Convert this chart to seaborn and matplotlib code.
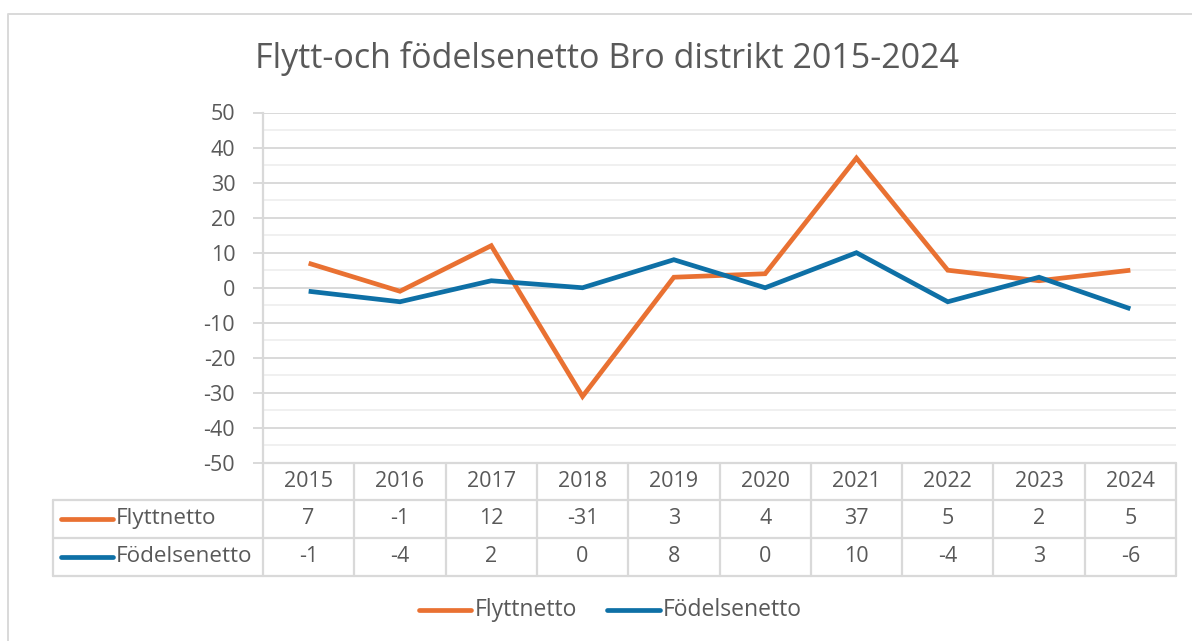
import matplotlib
matplotlib.use("Agg")
import matplotlib.pyplot as plt
import matplotlib.transforms as mtransforms
from matplotlib.lines import Line2D
import seaborn as sns
import pandas as pd
import numpy as np

years = ["2015", "2016", "2017", "2018", "2019", "2020", "2021", "2022", "2023", "2024"]
flytt = [7, -1, 12, -31, 3, 4, 37, 5, 2, 5]
fodelse = [-1, -4, 2, 0, 8, 0, 10, -4, 3, -6]
series_names = ["Flyttnetto", "Födelsenetto"]
colors = ["#E97132", "#0E70A6"]
title = "Flytt-och födelsenetto Bro distrikt 2015-2024"

sns.set_theme(style="white")
plt.rcParams["font.family"] = ["Open Sans", "DejaVu Sans"]

TXT = "#595959"
GRID = "#D9D9D9"
MINOR = "#F0F0F0"
FS = 15.5

W, H = 1192, 641
fig = plt.figure(figsize=(W / 100, H / 100), dpi=100)

def fx(px):
    return px / W

def fy(py):
    return 1 - py / H

ax_l, ax_r, ax_t, ax_b = 263, 1176, 112.5, 463
ax = fig.add_axes([fx(ax_l), fy(ax_b), fx(ax_r) - fx(ax_l), fy(ax_t) - fy(ax_b)])

df = pd.DataFrame({
    "x": list(range(len(years))) * 2,
    "value": flytt + fodelse,
    "series": [series_names[0]] * len(years) + [series_names[1]] * len(years),
})
sns.lineplot(data=df, x="x", y="value", hue="series", palette=colors,
             linewidth=3.4, ax=ax, legend=False, zorder=5)
for ln in ax.lines:
    ln.set_solid_joinstyle("miter")
    ln.set_solid_capstyle("butt")

ax.set_xlim(-0.5, len(years) - 0.5)
ax.set_ylim(-50, 50)
ax.set_yticks(np.arange(-50, 51, 10))
ax.set_yticks(np.arange(-45, 50, 10), minor=True)
ax.set_yticklabels([str(v) for v in range(-50, 51, 10)], fontsize=FS, color=TXT)
ax.set_xticks([])
ax.grid(axis="y", which="major", color=GRID, linewidth=1.4, zorder=0)
ax.grid(axis="y", which="minor", color=MINOR, linewidth=1.4, zorder=0)
ax.tick_params(axis="y", which="major", length=7, width=1.4, color=GRID, pad=13, left=True)
ax.tick_params(axis="y", which="minor", length=0)
ax.set_xlabel("")
ax.set_ylabel("")
for s in ["top", "right", "bottom"]:
    ax.spines[s].set_visible(False)
ax.spines["left"].set_color(GRID)
ax.spines["left"].set_linewidth(1.6)

# Data table below the axes
trans = mtransforms.blended_transform_factory(ax.transData, fig.transFigure)
row_edges = [463, 500, 537.5, 576]
left_px = 53
lw = 1.6
fig.add_artist(Line2D([fx(ax_l), fx(ax_r)], [fy(463), fy(463)], color=GRID, lw=lw))
for yy in row_edges[1:]:
    fig.add_artist(Line2D([fx(left_px), fx(ax_r)], [fy(yy), fy(yy)], color=GRID, lw=lw))
for i in range(len(years) + 1):
    xd = i - 0.5
    ax.add_line(Line2D([xd, xd], [fy(463), fy(576)], transform=trans, color=GRID, lw=lw, clip_on=False))
fig.add_artist(Line2D([fx(left_px), fx(left_px)], [fy(500), fy(576)], color=GRID, lw=lw))

hy = fy((row_edges[0] + row_edges[1]) / 2)
for i, yr in enumerate(years):
    ax.text(i, hy, yr, transform=trans, ha="center", va="center", fontsize=FS, color=TXT)
for r, (name, vals, col) in enumerate(zip(series_names, [flytt, fodelse], colors)):
    cy = fy((row_edges[r + 1] + row_edges[r + 2]) / 2)
    for i, v in enumerate(vals):
        ax.text(i, cy, str(v), transform=trans, ha="center", va="center", fontsize=FS, color=TXT)
    fig.add_artist(Line2D([fx(61), fx(113)], [cy, cy], color=col, lw=3.4, solid_capstyle="round"))
    fig.text(fx(116), cy, name, ha="left", va="center", fontsize=FS + 0.7, color=TXT)

# bottom legend
ly = fy(610)
fig.add_artist(Line2D([fx(419), fx(471)], [ly, ly], color=colors[0], lw=3.4, solid_capstyle="round"))
fig.text(fx(475), ly, series_names[0], ha="left", va="center", fontsize=FS + 1, color=TXT)
fig.add_artist(Line2D([fx(607), fx(660)], [ly, ly], color=colors[1], lw=3.4, solid_capstyle="round"))
fig.text(fx(663), ly, series_names[1], ha="left", va="center", fontsize=FS + 1, color=TXT)

# title
fig.text(fx(607), fy(59), title, ha="center", va="center", fontsize=24.5, color=TXT)

# chart border
fig.add_artist(Line2D([fx(8), fx(8), fx(1192)], [fy(641), fy(14), fy(14)], color=GRID, lw=1.4))

fig.savefig("out.png", dpi=100, facecolor="white")
